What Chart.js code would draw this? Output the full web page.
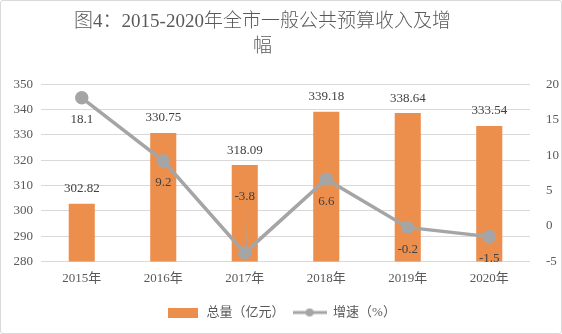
<!DOCTYPE html>
<html>
<head>
<meta charset="utf-8">
<script src="https://cdn.jsdelivr.net/npm/chart.js@4/dist/chart.umd.min.js"></script>
<style>
  body { margin: 0; background: #fff; }
  #wrap { width: 562px; height: 334px; box-sizing: border-box; border: 1px solid #d9d9d9; border-radius: 3px; }
</style>
</head>
<body>
<div id="wrap"><canvas id="chart" width="560" height="332"></canvas></div>
<script>
const years = ['2015年', '2016年', '2017年', '2018年', '2019年', '2020年'];
const totals = [302.82, 330.75, 318.09, 339.18, 338.64, 333.54];
const growth = [18.1, 9.2, -3.8, 6.6, -0.2, -1.5];
const growthLabelSide = ['below', 'below', 'above', 'below', 'below', 'below'];

const FONT = '"Liberation Serif", "Noto Sans CJK SC", serif';
const TEXT = '#595959';
const ORANGE = '#ED8F4C';
const GREY = '#A5A5A5';

// small icons for the legend entries
const lineIcon = document.createElement('canvas');
lineIcon.width = 34; lineIcon.height = 10;
(() => {
    const c = lineIcon.getContext('2d');
    c.strokeStyle = GREY; c.lineWidth = 3;
    c.beginPath(); c.moveTo(0, 5); c.lineTo(34, 5); c.stroke();
    c.fillStyle = GREY;
    c.beginPath(); c.arc(17, 5, 4, 0, Math.PI * 2); c.fill();
})();
const barIcon = document.createElement('canvas');
barIcon.width = 30; barIcon.height = 10;
(() => {
    const c = barIcon.getContext('2d');
    c.fillStyle = ORANGE; c.fillRect(0, 0, 30, 10);
})();

const valueLabels = {
    id: 'valueLabels',
    afterLayout(chart) {
        // the title in the original sits a little left of centre
        chart.titleBlock.right -= 37;
    },
    afterDatasetsDraw(chart) {
        const ctx = chart.ctx;
        ctx.save();
        ctx.font = '13px ' + FONT;
        ctx.fillStyle = '#404040';
        ctx.textAlign = 'center';
        ctx.textBaseline = 'middle';
        chart.getDatasetMeta(0).data.forEach((bar, i) => {
            ctx.fillText(totals[i].toFixed(2), bar.x, bar.y - 15);
        });
        chart.getDatasetMeta(1).data.forEach((pt, i) => {
            if (growthLabelSide[i] === 'above') {
                ctx.fillText(growth[i].toFixed(1), pt.x, pt.y - 56);
                ctx.strokeStyle = GREY; ctx.lineWidth = 1;
                ctx.beginPath(); ctx.moveTo(pt.x + 3, pt.y - 45); ctx.lineTo(pt.x + 2, pt.y - 6); ctx.stroke();
            } else {
                ctx.fillText(growth[i].toFixed(1), pt.x, pt.y + 22);
            }
        });
        ctx.restore();
    }
};

new Chart(document.getElementById('chart'), {
    data: {
        labels: years,
        datasets: [{
            type: 'bar',
            label: '总量（亿元）',
            data: totals,
            backgroundColor: ORANGE,
            yAxisID: 'y',
            barPercentage: 0.32,
            categoryPercentage: 1,
            order: 2
        }, {
            type: 'line',
            label: '增速（%）',
            data: growth,
            borderColor: GREY,
            backgroundColor: GREY,
            borderWidth: 3.5,
            pointRadius: 5,
            pointHoverRadius: 5,
            yAxisID: 'y1',
            order: 1
        }]
    },
    options: {
        responsive: false,
        animation: false,
        layout: { padding: { left: 0, right: 0, top: 0, bottom: 4 } },
        plugins: {
            title: {
                display: true,
                text: ['图4：2015-2020年全市一般公共预算收入及增', '幅'],
                color: TEXT,
                font: { family: FONT, size: 19, weight: 300, lineHeight: 1.3 },
                padding: { top: 9, bottom: 25 }
            },
            legend: {
                position: 'bottom',
                labels: {
                    usePointStyle: true,
                    pointStyleWidth: 34,
                    color: TEXT,
                    font: { family: FONT, size: 13 },
                    padding: 8,
                    generateLabels: chart => chart.data.datasets.map((ds, i) => ({
                        text: ds.label,
                        pointStyle: i === 0 ? barIcon : lineIcon,
                        fontColor: TEXT,
                        datasetIndex: i,
                        lineWidth: 0
                    }))
                }
            },
            tooltip: { enabled: false }
        },
        scales: {
            x: {
                grid: { display: false },
                border: { display: false },
                ticks: { color: TEXT, font: { family: FONT, size: 13 }, padding: 1 },
                afterFit: s => { s.height += 11; }
            },
            y: {
                position: 'left',
                min: 280, max: 350,
                ticks: { stepSize: 10, color: TEXT, font: { family: FONT, size: 13 }, padding: 8 },
                grid: { color: '#d9d9d9', drawTicks: false },
                border: { display: false },
                afterFit: s => { s.width = 40; }
            },
            y1: {
                position: 'right',
                min: -5, max: 20,
                ticks: { stepSize: 5, color: TEXT, font: { family: FONT, size: 13 }, padding: 8 },
                grid: { display: false },
                border: { display: false },
                afterFit: s => { s.width = 31; }
            }
        }
    },
    plugins: [valueLabels]
});
</script>
</body>
</html>
